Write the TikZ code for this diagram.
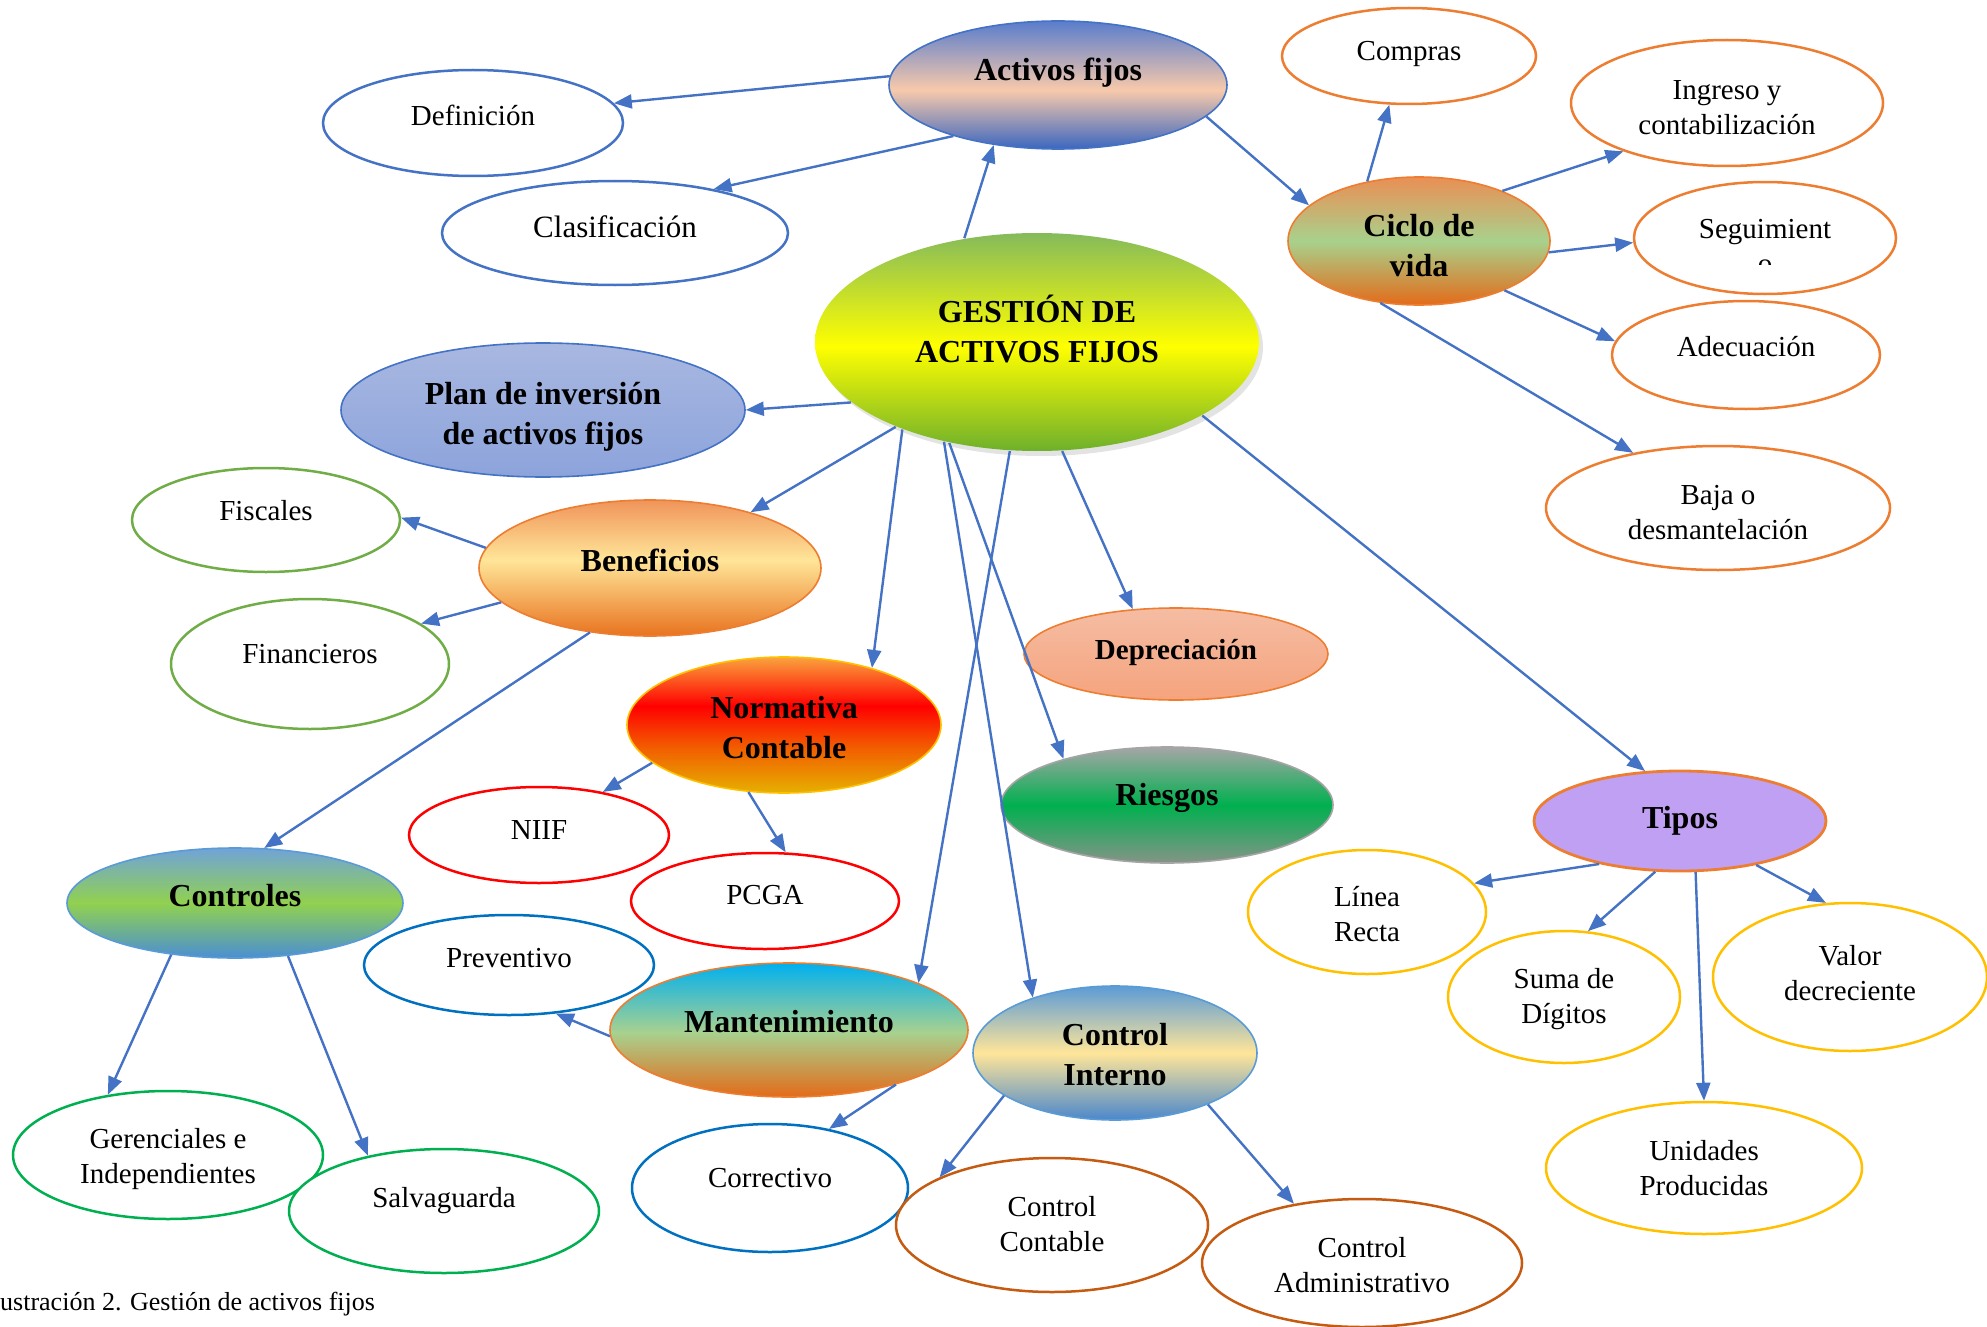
\documentclass[tikz,border=0pt]{standalone}
\usepackage{fontspec}
\setmainfont{Liberation Serif}
\usetikzlibrary{shapes.geometric,arrows.meta,shadows}

% text helpers: shift a line vertically without changing its box; two centred lines
\newcommand\lift[2]{\raisebox{#1}[\height][\depth]{#2}}
\newcommand\twol[2]{\begin{tabular}{@{}c@{}}#1\\#2\end{tabular}}

% palette
\definecolor{ablue}{HTML}{4472C4}
\definecolor{orng}{HTML}{ED7D31}
\definecolor{lgreen}{HTML}{70AD47}
\definecolor{bgreen}{HTML}{00B050}
\definecolor{dblue}{HTML}{0070C0}
\definecolor{rust}{HTML}{C55A11}
\definecolor{gold}{HTML}{FFC000}
\definecolor{mblue}{HTML}{5B9BD5}
\definecolor{lavender}{HTML}{C0A0F2}
\definecolor{greyedge}{HTML}{A5A5A5}

% vertical fills (25bp = bottom of the shape, 75bp = top)
\pgfdeclareverticalshading{shActivos}{100bp}{rgb(0bp)=(0.23,0.40,0.75); rgb(25bp)=(0.23,0.40,0.75); rgb(48bp)=(0.97,0.79,0.67); rgb(75bp)=(0.35,0.49,0.80); rgb(100bp)=(0.35,0.49,0.80)}
\pgfdeclareverticalshading{shGestion}{100bp}{rgb(0bp)=(0.43,0.69,0.17); rgb(25bp)=(0.43,0.69,0.17); rgb(49bp)=(1,1,0); rgb(75bp)=(0.52,0.73,0.36); rgb(100bp)=(0.52,0.73,0.36)}
\pgfdeclareverticalshading{shCiclo}{100bp}{rgb(0bp)=(0.89,0.42,0.10); rgb(25bp)=(0.89,0.42,0.10); rgb(50bp)=(0.66,0.82,0.55); rgb(75bp)=(0.92,0.56,0.33); rgb(100bp)=(0.92,0.56,0.33)}
\pgfdeclareverticalshading{shPlan}{100bp}{rgb(0bp)=(0.55,0.64,0.86); rgb(25bp)=(0.55,0.64,0.86); rgb(75bp)=(0.66,0.72,0.88); rgb(100bp)=(0.66,0.72,0.88)}
\pgfdeclareverticalshading{shBenef}{100bp}{rgb(0bp)=(0.91,0.45,0.12); rgb(25bp)=(0.91,0.45,0.12); rgb(53bp)=(1,0.90,0.60); rgb(75bp)=(0.94,0.58,0.35); rgb(100bp)=(0.94,0.58,0.35)}
\pgfdeclareverticalshading{shNorma}{100bp}{rgb(0bp)=(0.90,0.69,0); rgb(25bp)=(0.90,0.69,0); rgb(42bp)=(0.95,0.36,0); rgb(57bp)=(1,0,0); rgb(75bp)=(0.98,0.64,0.24); rgb(100bp)=(0.98,0.64,0.24)}
\pgfdeclareverticalshading{shDepre}{100bp}{rgb(0bp)=(0.96,0.64,0.49); rgb(25bp)=(0.96,0.64,0.49); rgb(75bp)=(0.96,0.74,0.64); rgb(100bp)=(0.96,0.74,0.64)}
\pgfdeclareverticalshading{shRiesgo}{100bp}{rgb(0bp)=(0.52,0.58,0.53); rgb(25bp)=(0.52,0.58,0.53); rgb(50bp)=(0,0.69,0.31); rgb(75bp)=(0.65,0.65,0.65); rgb(100bp)=(0.65,0.65,0.65)}
\pgfdeclareverticalshading{shControles}{100bp}{rgb(0bp)=(0.29,0.56,0.83); rgb(25bp)=(0.29,0.56,0.83); rgb(50bp)=(0.57,0.82,0.31); rgb(75bp)=(0.44,0.64,0.85); rgb(100bp)=(0.44,0.64,0.85)}
\pgfdeclareverticalshading{shManten}{100bp}{rgb(0bp)=(0.89,0.42,0.10); rgb(25bp)=(0.89,0.42,0.10); rgb(49bp)=(0.66,0.82,0.56); rgb(75bp)=(0,0.69,0.94); rgb(100bp)=(0,0.69,0.94)}
\pgfdeclareverticalshading{shCInterno}{100bp}{rgb(0bp)=(0.29,0.53,0.80); rgb(25bp)=(0.29,0.53,0.80); rgb(50bp)=(1,0.90,0.60); rgb(75bp)=(0.36,0.61,0.84); rgb(100bp)=(0.36,0.61,0.84)}

\tikzset{
  sz/.style 2 args={minimum width=#1, minimum height=#2},
  base/.style={ellipse, inner sep=0pt, text=black},
  leaf/.style={base, fill=white, line width=2.5pt, font=\fontsize{29}{35}\selectfont},
  hub/.style={base, line width=1.6pt, font=\bfseries\fontsize{32}{40}\selectfont},
  arr/.style={draw=ablue, line width=2.4pt, -{Triangle[length=18pt,width=14pt]}},
}

\begin{document}
\begin{tikzpicture}[x=1pt,y=-1pt]
\useasboundingbox (0,0) rectangle (1987,1327);

% ---- main topics ----
\node[hub, draw=ablue, shade, shading=shActivos, sz={338pt}{128pt}] (act) at (1058,85) {\lift{12pt}{Activos fijos}};
\node[hub, shade, shading=shGestion, drop shadow={shadow xshift=4pt, shadow yshift=-5pt, opacity=0.22}, sz={444pt}{218pt}] (ges) at (1037,342) {\lift{8pt}{\twol{GESTIÓN DE}{ACTIVOS FIJOS}}};
\node[hub, draw=orng, shade, shading=shCiclo, sz={262pt}{128pt}] (cic) at (1419,241) {\lift{-7pt}{\twol{Ciclo de}{vida}}};
\node[hub, draw=ablue, shade, shading=shPlan, sz={404pt}{134pt}] (pla) at (543,410) {\lift{-6pt}{\twol{Plan de inversión}{de activos fijos}}};
\node[hub, draw=orng, shade, shading=shBenef, sz={342pt}{136pt}] (ben) at (650,568) {\lift{8pt}{Beneficios}};
\node[hub, draw=gold, shade, shading=shNorma, sz={314pt}{136pt}] (nor) at (784,725) {\lift{-5pt}{\twol{Normativa}{Contable}}};
\node[hub, draw=orng, shade, shading=shDepre, sz={304pt}{92pt}, font=\bfseries\fontsize{29}{35}\selectfont] (dep) at (1176,654) {\lift{1pt}{Depreciación}};
\node[hub, draw=greyedge, shade, shading=shRiesgo, sz={332pt}{116pt}] (rie) at (1167,805) {\lift{7pt}{Riesgos}};
\node[hub, draw=mblue, shade, shading=shControles, sz={336pt}{110pt}] (con) at (235,903) {\lift{7pt}{Controles}};
\node[hub, draw=orng, shade, shading=shManten, sz={358pt}{134pt}] (man) at (789,1030) {\lift{8pt}{Mantenimiento}};
\node[hub, draw=mblue, shade, shading=shCInterno, sz={284pt}{134pt}] (cin) at (1115,1053) {\lift{-4pt}{\twol{Control}{Interno}}};
\node[hub, draw=orng, fill=lavender, line width=2.8pt, sz={292pt}{100pt}] (tip) at (1680,821) {Tipos};

% ---- Activos fijos ----
\node[leaf, draw=ablue, sz={300pt}{106pt}] (def) at (473,123) {\lift{8pt}{Definición}};
\node[leaf, draw=ablue, sz={346pt}{104pt}, font=\fontsize{31}{36}\selectfont] (cla) at (615,233) {\lift{6pt}{Clasificación}};

% ---- Ciclo de vida ----
\node[leaf, draw=orng, sz={254pt}{96pt}] (com) at (1409,56) {\lift{2pt}{Compras}};
\node[leaf, draw=orng, sz={312pt}{126pt}] (ing) at (1727,103) {\lift{-7pt}{\twol{Ingreso y}{contabilización}}};
\node[leaf, draw=orng, sz={262pt}{112pt}] (seg) at (1765,238) {\lift{6pt}{Seguimient}};
\begin{scope}
  \clip (1735,250) rectangle (1795,264);
  \node[anchor=base, font=\fontsize{29}{35}\selectfont, inner sep=0pt] (segtail) at (1765,273) {o};
\end{scope}
\node[leaf, draw=orng, sz={268pt}{108pt}] (ade) at (1746,355) {\lift{8pt}{Adecuación}};
\node[leaf, draw=orng, sz={344pt}{124pt}] (baj) at (1718,508) {\lift{-7pt}{\twol{Baja o}{desmantelación}}};

% ---- Beneficios ----
\node[leaf, draw=lgreen, sz={268pt}{104pt}] (fis) at (266,520) {\lift{9pt}{Fiscales}};
\node[leaf, draw=lgreen, sz={278pt}{130pt}] (fin) at (310,664) {\lift{10pt}{Financieros}};

% ---- Normativa contable ----
\node[leaf, draw=red, sz={260pt}{96pt}] (nii) at (539,835) {\lift{5pt}{NIIF}};
\node[leaf, draw=red, sz={268pt}{96pt}] (pcg) at (765,901) {\lift{6pt}{PCGA}};

% ---- Controles ----
\node[leaf, draw=bgreen, sz={310pt}{128pt}] (ger) at (168,1155) {\lift{-4pt}{\twol{Gerenciales e}{Independientes}}};
\node[leaf, draw=bgreen, sz={310pt}{124pt}] (sal) at (444,1211) {\lift{10pt}{Salvaguarda}};

% ---- Mantenimiento ----
\node[leaf, draw=dblue, sz={290pt}{100pt}] (pre) at (509,965) {\lift{7pt}{Preventivo}};
\node[leaf, draw=dblue, sz={276pt}{128pt}] (cor) at (770,1188) {\lift{10pt}{Correctivo}};

% ---- Control interno ----
\node[leaf, draw=rust, sz={312pt}{134pt}] (cco) at (1052,1225) {\lift{-2pt}{\twol{Control}{Contable}}};
\node[leaf, draw=rust, sz={320pt}{128pt}] (cad) at (1362,1263) {\lift{-5pt}{\twol{Control}{Administrativo}}};

% ---- Tipos ----
\node[leaf, draw=gold, sz={238pt}{124pt}] (lin) at (1367,912) {\lift{-5pt}{\twol{Línea}{Recta}}};
\node[leaf, draw=gold, sz={232pt}{132pt}] (sum) at (1564,997) {\lift{-2pt}{\twol{Suma de}{Dígitos}}};
\node[leaf, draw=gold, sz={274pt}{148pt}] (val) at (1850,977) {\lift{1pt}{\twol{Valor}{decreciente}}};
\node[leaf, draw=gold, sz={316pt}{132pt}] (uni) at (1704,1168) {\lift{-3pt}{\twol{Unidades}{Producidas}}};

% ---- caption ----
\node[anchor=base west, inner sep=0pt, font=\fontsize{26}{30}\selectfont] (cap) at (0,1310) {ustración 2. Gestión de activos fijos};

% ---- connectors ----
\draw[arr] (act.177) -- (def.8);
\draw[arr] (act.206) -- (cla.24);
\draw[arr] (ges.125) -- (act.223);
\draw[arr] (act.348) -- (cic.162);
\draw[arr] (cic.131) -- (com.248);
\draw[arr] (cic.31)  -- (ing.205);
\draw[arr] (cic.355) -- (seg.182);
\draw[arr] (cic.330) -- (ade.174);
\draw[arr] (cic.238) -- (baj.147);
\draw[arr] (ges.198) -- (pla.0);
\draw[arr] (ges.211) -- (ben.29);
\draw[arr] (ges.213) -- (nor.33);
\draw[arr] (ges.229) -- (rie.156);
\draw[arr] (ges.227) -- (cin.146);
\draw[arr] (ges.256) -- (man.20);
\draw[arr] (ges.283) -- (dep.134);
\draw[arr] (ges.336) -- (tip.125);
\draw[arr] (ben.173) -- (fis.1);
\draw[arr] (ben.193) -- (fin.20);
\draw[arr] (ben.227) -- (con.62);
\draw[arr] (nor.196) -- (nii.34);
\draw[arr] (nor.242) -- (pcg.67);
\draw[arr] (con.219) -- (ger.135);
\draw[arr] (con.315) -- (sal.144);
\draw[arr] (man.182) -- (pre.314);
\draw[arr] (man.333) -- (cor.45);
\draw[arr] (cin.201) -- (cco.157);
\draw[arr] (cin.331) -- (cad.139);
\draw[arr] (tip.208) -- (lin.15);
\draw[arr] (tip.244) -- (sum.70);
\draw[arr] (tip.287) -- (uni.90);
\draw[arr] (tip.330) -- (val.108);
\end{tikzpicture}
\end{document}
